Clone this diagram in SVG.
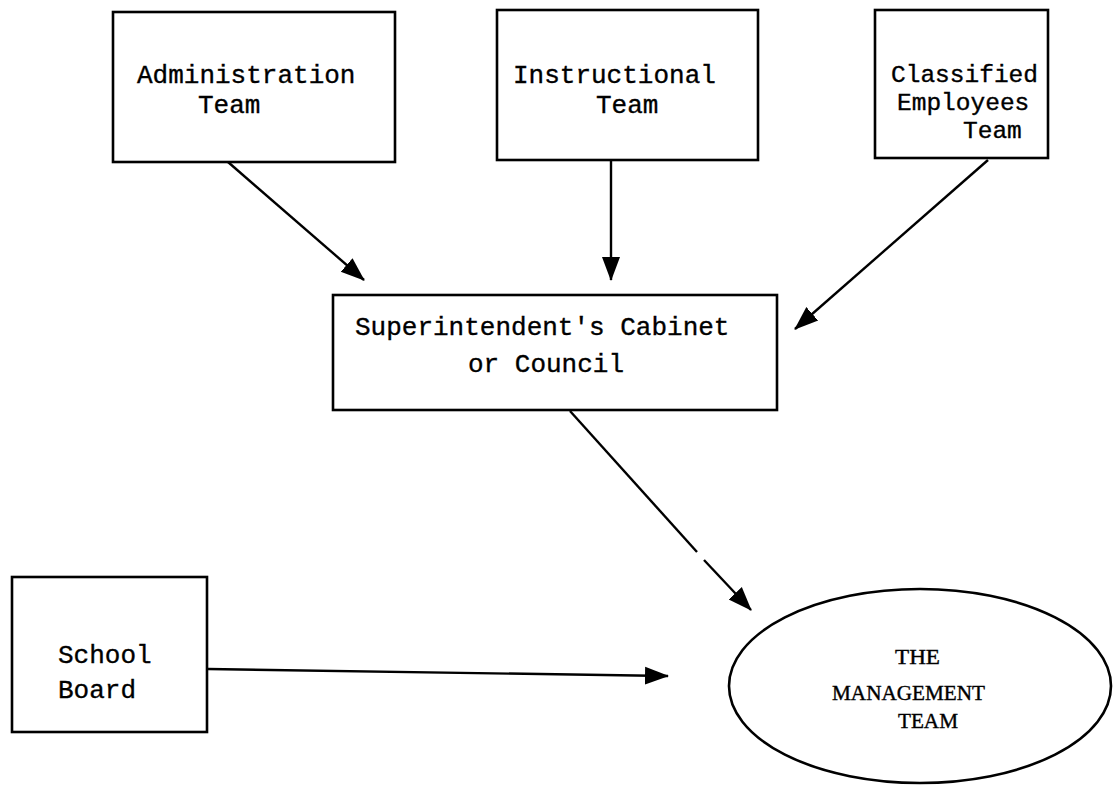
<svg xmlns="http://www.w3.org/2000/svg" width="1113" height="786" viewBox="0 0 1113 786">
<style>
.box{fill:#fff;stroke:#000;stroke-width:2.6}
.lbl{font-family:"Liberation Mono","Courier New",monospace;font-size:26px;fill:#000;stroke:#000;stroke-width:0.35}
.sm{font-size:24.5px}
.mg{font-family:"Liberation Serif","Times New Roman",serif;font-size:22px;fill:#000;stroke:#000;stroke-width:0.4}
.con{stroke:#000;stroke-width:2.4;fill:none}
</style>
<defs>
<marker id="ah" markerUnits="userSpaceOnUse" markerWidth="24" markerHeight="20" viewBox="0 0 24 20" refX="23" refY="10" orient="auto">
<path d="M0,1 L24,10 L0,19 Z" fill="#000"/>
</marker>
</defs>
<rect width="1113" height="786" fill="#fff"/>
<g id="connectors">
<line class="con" x1="228" y1="162" x2="364" y2="280" marker-end="url(#ah)"/>
<line class="con" x1="611" y1="161" x2="611" y2="280" marker-end="url(#ah)"/>
<line class="con" x1="988" y1="160" x2="795" y2="329" marker-end="url(#ah)"/>
<line class="con" x1="570" y1="411" x2="697" y2="552"/>
<line class="con" x1="704" y1="560" x2="751" y2="610" marker-end="url(#ah)"/>
<line class="con" x1="208" y1="669" x2="668" y2="676" marker-end="url(#ah)"/>
</g>
<g id="admin">
<rect class="box" x="113" y="12" width="282" height="150"/>
<text class="lbl" x="137" y="83">Administration</text>
<text class="lbl" x="198" y="113">Team</text>
</g>
<g id="instructional">
<rect class="box" x="497" y="10" width="261" height="150"/>
<text class="lbl" x="513" y="83">Instructional</text>
<text class="lbl" x="596" y="113">Team</text>
</g>
<g id="classified">
<rect class="box" x="875" y="10" width="173" height="148"/>
<text class="lbl sm" x="891" y="82">Classified</text>
<text class="lbl sm" x="897" y="110">Employees</text>
<text class="lbl sm" x="963" y="138">Team</text>
</g>
<g id="superintendent">
<rect class="box" x="333" y="295" width="444" height="115"/>
<text class="lbl" x="355" y="335">Superintendent's Cabinet</text>
<text class="lbl" x="468" y="372">or Council</text>
</g>
<g id="schoolboard">
<rect class="box" x="12" y="577" width="195" height="155"/>
<text class="lbl" x="58" y="663">School</text>
<text class="lbl" x="58" y="698">Board</text>
</g>
<g id="management">
<ellipse fill="#fff" stroke="#000" stroke-width="2.6" cx="920" cy="686" rx="191" ry="97"/>
<text class="mg" x="895" y="664" textLength="45" lengthAdjust="spacingAndGlyphs">THE</text>
<text class="mg" x="832" y="700" textLength="153" lengthAdjust="spacingAndGlyphs">MANAGEMENT</text>
<text class="mg" x="898" y="728" textLength="60" lengthAdjust="spacingAndGlyphs">TEAM</text>
</g>
</svg>
